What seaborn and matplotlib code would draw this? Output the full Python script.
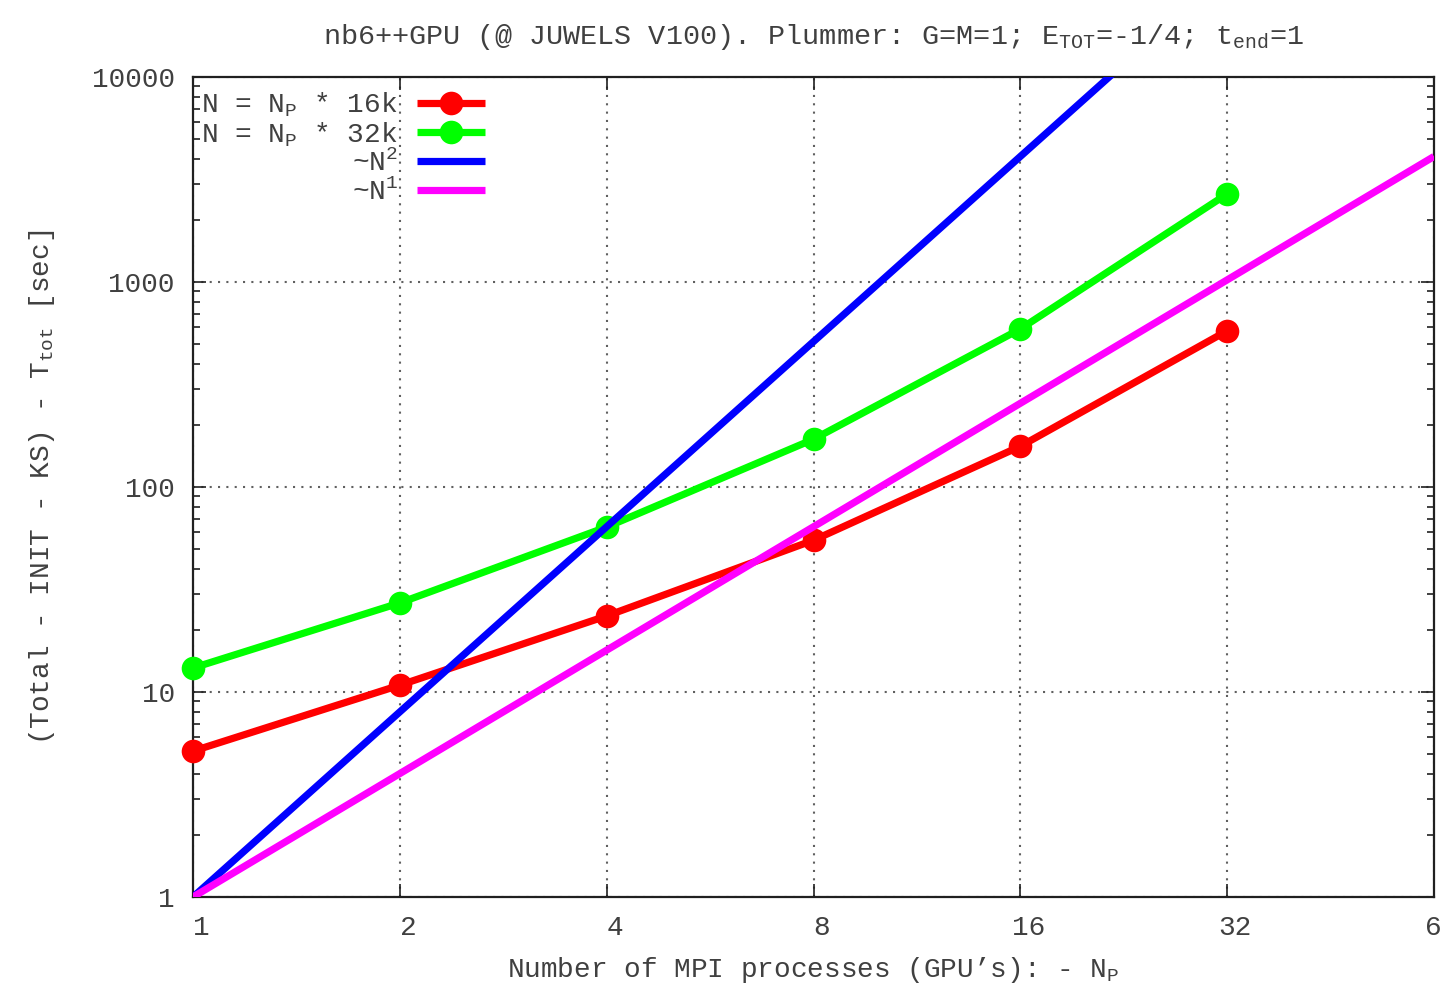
import numpy as np
import pandas as pd
import seaborn as sns
import matplotlib
matplotlib.use("Agg")
import matplotlib.pyplot as plt
from matplotlib.ticker import FixedLocator, FixedFormatter, NullLocator, LogLocator, NullFormatter
from matplotlib.transforms import ScaledTranslation

# ---- data ----
n_procs = [1, 2, 4, 8, 16, 32]
t_16k = [5.15, 10.8, 23.5, 55, 158, 578]
t_32k = [13.1, 27.2, 63.8, 171, 590, 2690]
ref_x = [1, 2, 4, 8, 16, 32, 64]
ref_n2 = [1, 8, 64, 512, 4096, 32768, 262144]
ref_n1 = [1, 4, 16, 64, 256, 1024, 4096]
x_ticks = [1, 2, 4, 8, 16, 32, 64]
x_ticklabels = ["1", "2", "4", "8", "16", "32", "64"]
y_ticks = [1, 10, 100, 1000, 10000]
y_ticklabels = ["1", "10", "100", "1000", "10000"]
labels = [r"N = N$_\mathrm{P}$ * 16k", r"N = N$_\mathrm{P}$ * 32k", r"~N$^2$", r"~N$^1$"]
colors = ["#ff0000", "#00ff00", "#0000ff", "#ff00ff"]

sns.set_style("ticks")
plt.rcParams["font.family"] = ["Liberation Mono", "DejaVu Sans"]
plt.rcParams["mathtext.fontset"] = "custom"
plt.rcParams["mathtext.rm"] = "Liberation Mono"
plt.rcParams["mathtext.it"] = "Liberation Mono"
plt.rcParams["mathtext.bf"] = "Liberation Mono"
plt.rcParams["mathtext.default"] = "regular"

FS = 20
TXT = "#404040"

fig = plt.figure(figsize=(14.42, 9.90), dpi=100)
ax = fig.add_axes([193 / 1442, 1 - 897 / 990, (1434 - 193) / 1442, (897 - 77) / 990])

ax.set_xscale("log", base=2)
ax.set_yscale("log")
ax.set_xlim(1, 64)
ax.set_ylim(1, 10000)

ax.grid(True, which="major", color="#606060", linestyle=(0, (1, 3)), linewidth=1.5, zorder=0)

lw = 5.2
ms = 17
sns.lineplot(x=n_procs, y=t_16k, ax=ax, color=colors[0], lw=lw, marker="o", markersize=ms,
             markeredgewidth=0, label=labels[0], clip_on=False, zorder=3)
sns.lineplot(x=n_procs, y=t_32k, ax=ax, color=colors[1], lw=lw, marker="o", markersize=ms,
             markeredgewidth=0, label=labels[1], clip_on=False, zorder=4)
sns.lineplot(x=ref_x, y=ref_n2, ax=ax, color=colors[2], lw=lw, label=labels[2], zorder=5)
sns.lineplot(x=ref_x, y=ref_n1, ax=ax, color=colors[3], lw=lw, label=labels[3], zorder=6)
for ln in ax.get_lines():
    ln.set_solid_capstyle("butt")

ax.xaxis.set_major_locator(FixedLocator(x_ticks))
ax.xaxis.set_major_formatter(FixedFormatter(x_ticklabels))
ax.xaxis.set_minor_locator(NullLocator())
ax.yaxis.set_major_locator(FixedLocator(y_ticks))
ax.yaxis.set_major_formatter(FixedFormatter(y_ticklabels))
ax.yaxis.set_minor_locator(LogLocator(base=10, subs=np.arange(2, 10)))
ax.yaxis.set_minor_formatter(NullFormatter())

ax.tick_params(which="both", direction="in", top=True, right=True, colors="#202020",
               labelcolor=TXT, labelsize=FS, width=1.2)
ax.tick_params(which="major", length=9.5)
ax.tick_params(which="minor", length=5)
ax.tick_params(axis="x", pad=13)
ax.tick_params(axis="y", pad=13)
for lab in ax.get_xticklabels():
    lab.set_transform(lab.get_transform() + ScaledTranslation(8 / 100, 0, fig.dpi_scale_trans))

for sp in ax.spines.values():
    sp.set_color("#202020")
    sp.set_linewidth(1.6)

ax.set_title(r"nb6++GPU (@ JUWELS V100). Plummer: G=M=1; E$_\mathrm{TOT}$=-1/4; t$_\mathrm{end}$=1",
             fontsize=20.5, color=TXT, pad=24)
ax.set_xlabel(r"Number of MPI processes (GPU’s): - N$_\mathrm{P}$", fontsize=FS, color=TXT)
ax.xaxis.set_label_coords(0.5, -(955 - 897) / 820)
ax.set_ylabel(r"(Total - INIT - KS) - T$_\mathrm{tot}$ [sec]", fontsize=FS, color=TXT)
ax.yaxis.set_label_coords(-(193 - 57) / 1241, 0.5)

leg = ax.legend(loc="upper left", bbox_to_anchor=(0.0, 1.0 - 5 / 820), frameon=False, fontsize=FS,
                markerfirst=False, handlelength=2.45, handletextpad=0.7, labelspacing=0.05,
                borderaxespad=0.0, borderpad=0.3)
for t in leg.get_texts():
    t.set_color(TXT)

fig.savefig("out.png", dpi=100)
